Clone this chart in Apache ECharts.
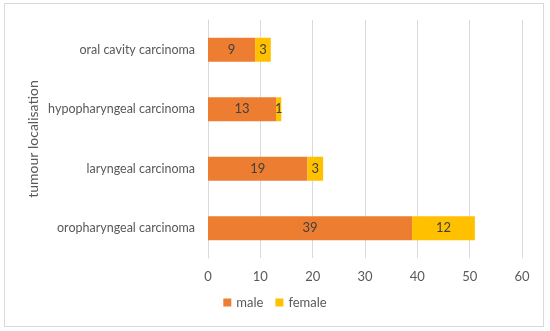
<!DOCTYPE html>
<html><head><meta charset="utf-8">
<script src="https://cdn.jsdelivr.net/npm/echarts@6/dist/echarts.min.js"></script>
<style>html,body{margin:0;padding:0;background:#fff}#c{width:550px;height:331px}
#frame{position:absolute;left:4px;top:3px;width:540px;height:324px;border:1px solid #d9d9d9;box-sizing:border-box;pointer-events:none}</style>
</head><body><div id="c"></div><div id="frame"></div>
<script>
const categories = ['oropharyngeal carcinoma', 'laryngeal carcinoma', 'hypopharyngeal carcinoma', 'oral cavity carcinoma'];
const male = [39, 19, 13, 9];
const female = [12, 3, 1, 3];
const xTicks = { min: 0, max: 60, interval: 10 };
const seriesNames = ['male', 'female'];
const yTitle = 'tumour localisation';

const font = 'Lato';
const chart = echarts.init(document.getElementById('c'), null, { renderer: 'canvas' });
chart.setOption({
  animation: false,
  textStyle: { fontFamily: font },
  grid: { left: 208, right: 28, top: 20, bottom: 73, containLabel: false },
  legend: {
    data: seriesNames, bottom: 17, left: 'center', itemWidth: 8, itemHeight: 8, itemGap: 12,
    icon: 'rect', textStyle: { color: '#595959', fontSize: 13, fontFamily: font }
  },
  xAxis: {
    type: 'value', min: xTicks.min, max: xTicks.max, interval: xTicks.interval,
    axisLine: { show: false }, axisTick: { show: false },
    axisLabel: { color: '#595959', fontSize: 13, margin: 12, fontFamily: font },
    splitLine: { lineStyle: { color: '#d9d9d9', width: 1 } }
  },
  yAxis: {
    type: 'category', data: categories,
    name: yTitle, nameLocation: 'middle', nameGap: 168, nameRotate: 90, nameMoveOverlap: false,
    nameTextStyle: { color: '#595959', fontSize: 14, fontFamily: font },
    axisLine: { show: true, lineStyle: { color: '#d9d9d9' } }, axisTick: { show: false },
    axisLabel: { color: '#595959', fontSize: 12.5, margin: 13, fontFamily: font }
  },
  series: [
    { name: seriesNames[0], type: 'bar', stack: 's', data: male, barWidth: 24,
      itemStyle: { color: '#ED7D31' },
      label: { show: true, position: 'inside', color: '#404040', fontSize: 13, fontFamily: font } },
    { name: seriesNames[1], type: 'bar', stack: 's', data: female, barWidth: 24,
      itemStyle: { color: '#FFC000' },
      label: { show: true, position: 'inside', color: '#404040', fontSize: 13, fontFamily: font } }
  ]
});
</script></body></html>
